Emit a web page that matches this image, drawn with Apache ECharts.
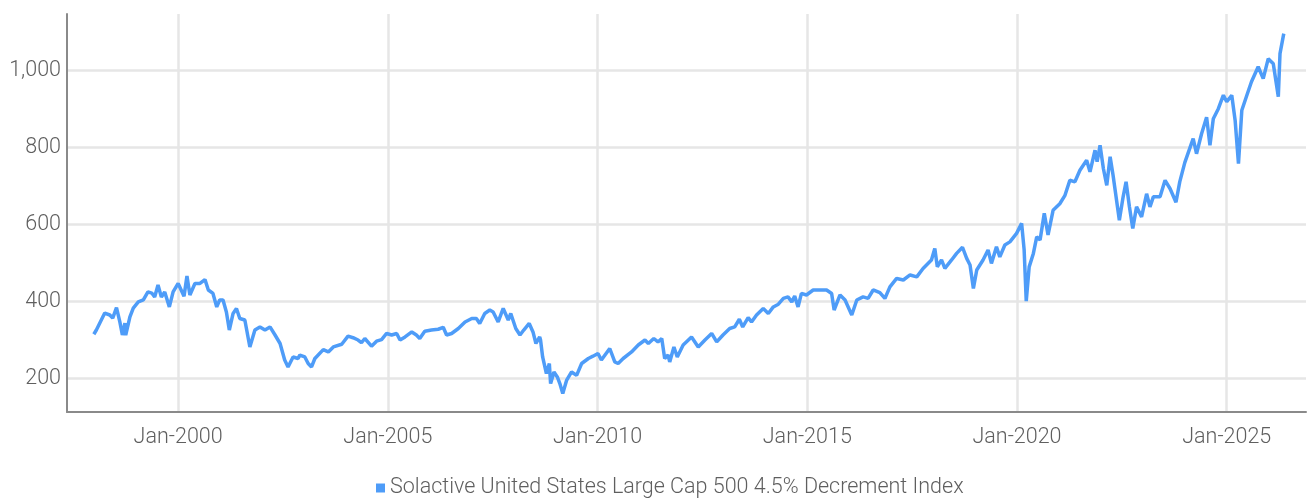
<!DOCTYPE html>
<html>
<head>
<meta charset="utf-8">
<title>Solactive United States Large Cap 500 4.5% Decrement Index</title>
<script src="https://cdn.jsdelivr.net/npm/echarts@6/dist/echarts.min.js"></script>
<style>
  html, body { margin: 0; padding: 0; background: #fff; }
  #chart { width: 1307px; height: 498px; }
</style>
</head>
<body>
<div id="chart"></div>
<script>
// dates as decimal years
const dates = [
  1997.99, 1998.05, 1998.25, 1998.37, 1998.44, 1998.53, 1998.61, 1998.67, 1998.73, 1998.75,
  1998.85, 1998.93, 1999.05, 1999.17, 1999.28, 1999.37, 1999.44, 1999.52, 1999.60, 1999.68,
  1999.79, 1999.88, 2000.00, 2000.14, 2000.21, 2000.28, 2000.40, 2000.52, 2000.64, 2000.72,
  2000.83, 2000.92, 2000.99, 2001.07, 2001.15, 2001.22, 2001.31, 2001.39, 2001.47, 2001.59,
  2001.71, 2001.83, 2001.95, 2002.07, 2002.19, 2002.31, 2002.43, 2002.54, 2002.62, 2002.74,
  2002.86, 2002.90, 2003.02, 2003.10, 2003.18, 2003.26, 2003.46, 2003.58, 2003.70, 2003.90,
  2004.05, 2004.17, 2004.29, 2004.37, 2004.45, 2004.61, 2004.73, 2004.85, 2004.97, 2005.09,
  2005.21, 2005.29, 2005.41, 2005.57, 2005.68, 2005.76, 2005.88, 2006.04, 2006.20, 2006.32,
  2006.40, 2006.52, 2006.68, 2006.84, 2007.00, 2007.11, 2007.19, 2007.31, 2007.43, 2007.51,
  2007.63, 2007.75, 2007.87, 2007.93, 2008.05, 2008.15, 2008.24, 2008.37, 2008.46, 2008.53,
  2008.62, 2008.64, 2008.69, 2008.78, 2008.85, 2008.88, 2008.96, 2009.04, 2009.10, 2009.17,
  2009.26, 2009.38, 2009.50, 2009.62, 2009.78, 2009.89, 2010.01, 2010.09, 2010.29, 2010.41,
  2010.49, 2010.61, 2010.81, 2010.97, 2011.13, 2011.21, 2011.34, 2011.44, 2011.53, 2011.60,
  2011.68, 2011.72, 2011.82, 2011.90, 2012.04, 2012.24, 2012.40, 2012.56, 2012.72, 2012.84,
  2012.99, 2013.15, 2013.27, 2013.38, 2013.46, 2013.59, 2013.67, 2013.79, 2013.95, 2014.07,
  2014.19, 2014.31, 2014.43, 2014.54, 2014.63, 2014.70, 2014.78, 2014.86, 2014.98, 2015.14,
  2015.30, 2015.46, 2015.58, 2015.64, 2015.78, 2015.90, 2016.06, 2016.18, 2016.33, 2016.45,
  2016.57, 2016.73, 2016.85, 2016.97, 2017.13, 2017.29, 2017.45, 2017.61, 2017.76, 2017.96,
  2018.04, 2018.10, 2018.20, 2018.28, 2018.44, 2018.56, 2018.70, 2018.80, 2018.88, 2018.96,
  2019.04, 2019.19, 2019.31, 2019.39, 2019.51, 2019.59, 2019.71, 2019.83, 2019.99, 2020.11,
  2020.17, 2020.22, 2020.29, 2020.39, 2020.47, 2020.55, 2020.65, 2020.74, 2020.86, 2021.02,
  2021.14, 2021.26, 2021.38, 2021.50, 2021.66, 2021.74, 2021.86, 2021.91, 2021.98, 2022.06,
  2022.14, 2022.22, 2022.29, 2022.44, 2022.53, 2022.60, 2022.68, 2022.76, 2022.85, 2022.97,
  2023.09, 2023.17, 2023.25, 2023.41, 2023.53, 2023.65, 2023.79, 2023.88, 2024.00, 2024.16,
  2024.20, 2024.28, 2024.40, 2024.52, 2024.60, 2024.68, 2024.80, 2024.92, 2025.00, 2025.12,
  2025.20, 2025.28, 2025.36, 2025.48, 2025.59, 2025.75, 2025.87, 2025.99, 2026.11, 2026.23,
  2026.27, 2026.36
]
const values = [
  314, 325, 369, 364, 356, 383, 346, 312, 343, 312,
  359, 382, 398, 403, 424, 421, 411, 442, 411, 424,
  385, 424, 446, 413, 465, 416, 446, 446, 456, 429,
  420, 385, 403, 403, 372, 325, 368, 381, 355, 351,
  281, 325, 333, 325, 333, 312, 290, 247, 229, 255,
  251, 260, 255, 238, 229, 251, 274, 268, 281, 288,
  309, 305, 299, 292, 303, 283, 296, 300, 316, 312,
  316, 299, 307, 320, 312, 303, 322, 325, 327, 332,
  312, 316, 329, 346, 355, 355, 342, 368, 377, 372,
  346, 381, 351, 368, 329, 312, 325, 342, 320, 290,
  307, 299, 255, 212, 238, 186, 216, 203, 186, 160,
  194, 216, 207, 238, 251, 257, 264, 247, 277, 242,
  238, 251, 268, 286, 299, 290, 303, 294, 303, 251,
  260, 242, 281, 255, 286, 307, 281, 299, 316, 294,
  312, 329, 333, 353, 333, 357, 346, 364, 381, 368,
  385, 392, 407, 411, 398, 413, 385, 420, 416, 429,
  429, 429, 420, 377, 416, 403, 364, 403, 411, 407,
  429, 422, 407, 437, 459, 455, 468, 463, 485, 507,
  537, 489, 507, 485, 507, 524, 540, 511, 494, 433,
  481, 507, 533, 498, 541, 515, 546, 554, 576, 602,
  533, 400, 489, 524, 567, 559, 628, 572, 636, 653,
  674, 714, 710, 740, 766, 736, 792, 762, 805, 744,
  701, 775, 727, 610, 671, 710, 645, 589, 645, 619,
  679, 645, 671, 671, 714, 692, 657, 710, 760, 810,
  822, 783, 835, 878, 805, 874, 900, 935, 918, 935,
  870, 757, 896, 935, 970, 1009, 978, 1030, 1017, 931,
  1043, 1095
]
const xTicks = [2000, 2005, 2010, 2015, 2020, 2025]
const yTicks = [200, 400, 600, 800, 1000]
const seriesName = 'Solactive United States Large Cap 500 4.5% Decrement Index'

const chart = echarts.init(document.getElementById('chart'))
const textColor = '#5f5f5f'
const fontFamily = 'Roboto, "Noto Sans", sans-serif'

const option = {
  animation: false,
  textStyle: { fontFamily: fontFamily },
  grid: { left: 67, right: 1, top: 14, bottom: 86, containLabel: false },
  legend: {
    data: [seriesName],
    left: 371,
    top: 472,
    icon: 'rect',
    itemWidth: 9,
    itemHeight: 9,
    itemGap: 6,
    textStyle: { color: textColor, fontSize: 21.5, fontFamily: fontFamily, fontWeight: 300 }
  },
  xAxis: {
    type: 'value',
    min: 1997.35,
    max: 2026.89,
    axisLine: { show: true, lineStyle: { color: '#8a8a8a', width: 2 } },
    axisTick: { show: false, customValues: xTicks },
    axisLabel: {
      customValues: xTicks,
      color: textColor,
      fontSize: 21.5,
      fontWeight: 300,
      margin: 15,
      formatter: v => 'Jan-' + Math.round(v)
    },
    splitLine: { show: true, lineStyle: { color: '#e6e6e6', width: 2.5 } }
  },
  yAxis: {
    type: 'value',
    min: 112,
    max: 1146,
    axisLine: { show: true, lineStyle: { color: '#8a8a8a', width: 2 } },
    axisTick: { show: false, customValues: yTicks },
    axisLabel: {
      customValues: yTicks,
      color: textColor,
      fontSize: 21.5,
      fontWeight: 300,
      margin: 6,
      formatter: v => v.toLocaleString('en-US')
    },
    splitLine: { show: true, lineStyle: { color: '#e6e6e6', width: 2.5 } }
  },
  series: [
    {
      name: seriesName,
      type: 'line',
      showSymbol: false,
      symbol: 'none',
      data: dates.map((d, i) => [d, values[i]]),
      itemStyle: { color: '#4e9cf8' },
      lineStyle: { color: '#4e9cf8', width: 3.5 }
    }
  ]
}
chart.setOption(option)
</script>
</body>
</html>
